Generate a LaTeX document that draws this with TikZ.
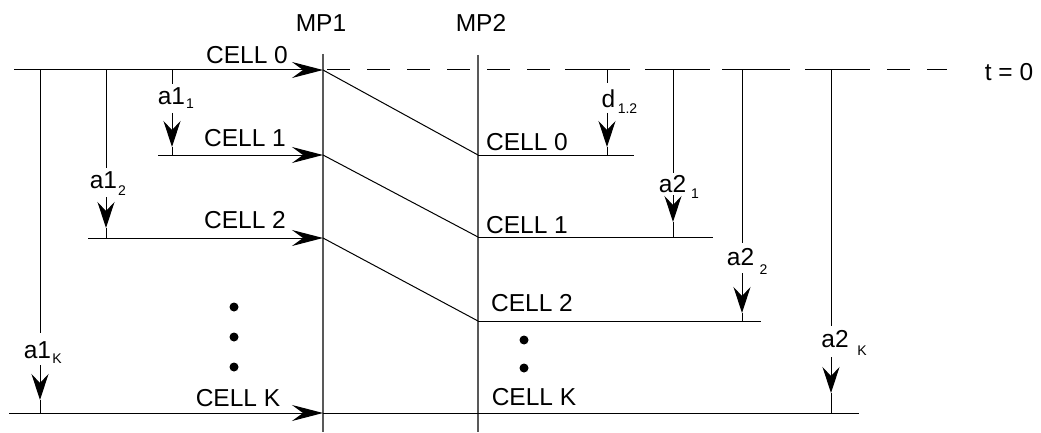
\documentclass[tikz,border=0pt]{standalone}
\usepackage{fontspec}
\setmainfont{Liberation Sans}
\usetikzlibrary{arrows.meta}
\begin{document}
\begin{tikzpicture}[x=1pt,y=-1pt,
  ln/.style={line width=1pt, black},
  mpline/.style={line width=1.3pt, black!65},
  harr/.style={ln, -{Stealth[length=31pt,width=16pt,inset=11pt]}},
  varr/.style={ln, -{Stealth[length=26pt,width=17pt,inset=9pt]}},
  lbl/.style={inner sep=0pt, font=\fontsize{24.5}{27}\selectfont},
  subl/.style={inner sep=0pt, font=\fontsize{14}{16}\selectfont},
  bigdot/.style={circle, fill=black, inner sep=0pt, minimum size=9pt}
]
\useasboundingbox (0,0) rectangle (1041,433);
% processor time lines
\coordinate (mp1top) at (323,54); \coordinate (mp1bot) at (323,432);
\coordinate (mp2top) at (478,55); \coordinate (mp2bot) at (478,432);
\draw[mpline] (mp1top) -- (mp1bot);
\draw[mpline] (mp2top) -- (mp2bot);
% top line t = 0
\coordinate (t0start) at (14,70); \coordinate (m1c0) at (323,70);
\coordinate (dstart) at (327,70); \coordinate (dend) at (947,70);
\draw[harr] (t0start) -- (m1c0);
\draw[ln, dash pattern=on 23pt off 17pt] (dstart) -- (dend);
\foreach \a/\b [count=\i] in {565/627,645/703,722/788,805/868}{
  \coordinate (sa\i) at (\a,70); \coordinate (sb\i) at (\b,70);
  \draw[ln] (sa\i) -- (sb\i);
}
% cells at MP1
\coordinate (c1start) at (158,155); \coordinate (m1c1) at (323,155);
\coordinate (c2start) at (88,238);  \coordinate (m1c2) at (323,238);
\coordinate (ckstart) at (9,413);   \coordinate (m1ck) at (323,413); \coordinate (ckend) at (859,413);
\draw[harr] (c1start) -- (m1c1);
\draw[harr] (c2start) -- (m1c2);
\draw[harr] (ckstart) -- (m1ck);
\draw[ln] (m1ck) -- (ckend);
% cells at MP2
\coordinate (m2c0) at (478,155); \coordinate (m2c0end) at (634,155);
\coordinate (m2c1) at (478,237); \coordinate (m2c1end) at (713,237);
\coordinate (m2c2) at (478,321); \coordinate (m2c2end) at (761,321);
\draw[ln] (m2c0) -- (m2c0end);
\draw[ln] (m2c1) -- (m2c1end);
\draw[ln] (m2c2) -- (m2c2end);
% transfers
\draw[ln] (m1c0) -- (m2c0);
\draw[ln] (m1c1) -- (m2c1);
\draw[ln] (m1c2) -- (m2c2);
% vertical delay arrows: name/x/gap top/gap bottom/tip/end
\foreach \n/\x/\ga/\gb/\tp/\e in {aa/172/84/113/147/155, ab/106/168/197/228/238, ak/40/333/365/400/413,
  dd/607/83/113/147/155, ba/673/173/195/222/237, bb/742/243/273/313/321, bk/831/326/357/393/413}{
  \coordinate (\n0) at (\x,70); \coordinate (\n1) at (\x,\ga);
  \coordinate (\n2) at (\x,\gb); \coordinate (\n3) at (\x,\tp); \coordinate (\n4) at (\x,\e);
  \draw[ln] (\n0) -- (\n1);
  \draw[varr] (\n2) -- (\n3);
  \draw[ln] (\n3) -- (\n4);
}
% texts
\node[lbl] (cell0a) at (247,55) {CELL 0};
\node[lbl] (cell1a) at (245,138) {CELL 1};
\node[lbl] (cell2a) at (245,220) {CELL 2};
\node[lbl] (cellka) at (238,398) {CELL K};
\node[lbl] (mp1) at (321,23) {MP1};
\node[lbl] (mp2) at (481,23) {MP2};
\node[lbl] (cell0b) at (527,142) {CELL 0};
\node[lbl] (cell1b) at (527,225) {CELL 1};
\node[lbl] (cell2b) at (532,303) {CELL 2};
\node[lbl] (cellkb) at (534,397) {CELL K};
\node[lbl] (t0) at (1009,72) {t = 0};
\node[lbl] (la1) at (171.5,96.5) {a1};   \node[subl] (sa1) at (190,104) {1};
\node[lbl] (la2) at (103.5,180) {a1};    \node[subl] (sa2) at (122,191) {2};
\node[lbl] (lak) at (37.5,350) {a1};     \node[subl] (sak) at (57,359) {K};
\node[lbl] (ld) at (608.5,98.5) {d};     \node[subl] (sd) at (627.5,108.5) {1.2};
\node[lbl] (lb1) at (672.5,184.5) {a2};  \node[subl] (sb1) at (695,193.5) {1};
\node[lbl] (lb2) at (740.5,257.5) {a2};  \node[subl] (sb2) at (763.5,270) {2};
\node[lbl] (lbk) at (835,339.5) {a2};    \node[subl] (sbk) at (862,351) {K};
% ellipsis dots
\node[bigdot] (d1) at (234,307) {}; \node[bigdot] (d2) at (234,337) {}; \node[bigdot] (d3) at (234,367) {};
\node[bigdot] (e1) at (524,340) {}; \node[bigdot] (e2) at (524,368) {};
\end{tikzpicture}
\end{document}
